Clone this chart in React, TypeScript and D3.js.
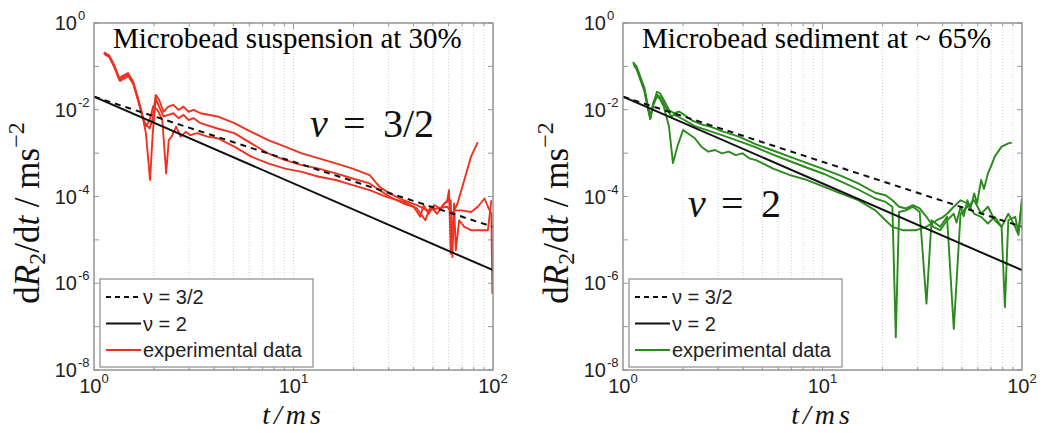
import * as d3 from "d3";

type Pt = [number, number];

// fitted power laws: value at t = 1 ms and t = 100 ms
const modelT = [1, 100];
const nu32Values = [0.02, 2e-5];
const nu2Values = [0.02, 2e-6];

const yTickExps = [0, -2, -4, -6, -8];
const xTickExps = [0, 1, 2];

// Microbead suspension at 30 % (three runs)
const suspensionA: Pt[] = [
  [1.12, 0.2], [1.19, 0.17], [1.26, 0.1], [1.34, 0.049], [1.4, 0.056], [1.48, 0.064], [1.57, 0.041],
  [1.66, 0.017], [1.73, 0.0083], [1.8, 0.0049], [1.9, 0.0037], [1.96, 0.0058], [2.04, 0.022], [2.12, 0.017],
  [2.23, 0.009], [2.36, 0.0118], [2.5, 0.013], [2.65, 0.0099], [2.81, 0.0118], [2.98, 0.009], [3.16, 0.0099],
  [3.42, 0.0083], [4.16, 0.007], [5.05, 0.0049], [6.14, 0.0031], [7.46, 0.002], [9.07, 0.00141], [11.0, 9.9e-4],
  [13.4, 7.6e-4], [16.3, 5.8e-4], [19.8, 4.4e-4], [24.1, 3.1e-4], [27.0, 1.67e-4], [30.4, 1.17e-4],
  [35.6, 8.2e-5], [41.6, 6.3e-5], [46.7, 4.8e-5], [52.5, 5.3e-5], [59.0, 5.8e-5], [62.6, 4.0e-5],
  [66.4, 6.9e-5], [71.8, 2.4e-4], [77.6, 8.3e-4], [83.9, 0.0018],
];
const suspensionB: Pt[] = [
  [1.12, 0.21], [1.19, 0.18], [1.26, 0.11], [1.34, 0.054], [1.4, 0.061], [1.48, 0.07], [1.57, 0.045],
  [1.66, 0.019], [1.73, 0.0092], [1.82, 0.0029], [1.91, 2.4e-4], [1.97, 0.0029], [2.04, 0.018], [2.12, 0.0118],
  [2.23, 0.007], [2.36, 0.0076], [2.5, 0.0083], [2.65, 0.0064], [2.81, 0.0076], [2.98, 0.0058], [3.16, 0.0064],
  [3.42, 0.0049], [4.16, 0.0037], [5.05, 0.0029], [6.14, 0.00168], [7.46, 9.9e-4], [9.07, 6.9e-4],
  [11.0, 5.3e-4], [13.4, 4.4e-4], [16.3, 3.4e-4], [19.8, 2.6e-4], [24.1, 2.0e-4], [27.0, 1.4e-4],
  [30.4, 9.8e-5], [35.6, 6.9e-5], [40.0, 5.8e-5], [43.2, 3.4e-5], [44.9, 6.3e-5], [47.6, 4.0e-5],
  [50.5, 6.3e-5], [54.6, 5.3e-5], [59.0, 8.2e-5], [60.2, 1.4e-4], [61.4, 4.8e-6], [63.8, 4.8e-5],
  [69.0, 4.8e-5], [77.6, 4.4e-5], [83.9, 5.8e-5], [90.7, 9.0e-5], [94.3, 5.8e-5], [98.1, 4.0e-5],
  [99.3, 5.7e-7],
];
const suspensionC: Pt[] = [
  [1.13, 0.19], [1.2, 0.16], [1.27, 0.092], [1.35, 0.046], [1.41, 0.052], [1.49, 0.059], [1.58, 0.038],
  [1.67, 0.016], [1.74, 0.0078], [1.82, 0.0041], [1.9, 0.0058], [1.98, 0.012], [2.08, 0.0099], [2.2, 0.0058],
  [2.3, 3.4e-4], [2.37, 0.002], [2.45, 0.0024], [2.58, 0.0041], [2.72, 0.0024], [2.88, 0.0031], [3.04, 0.0026],
  [3.29, 0.0029], [3.7, 0.0024], [4.16, 0.0022], [5.05, 0.00141], [6.14, 8.3e-4], [7.46, 5.8e-4],
  [9.07, 4.4e-4], [11.0, 3.7e-4], [13.4, 2.85e-4], [16.3, 2.4e-4], [19.8, 1.83e-4], [24.1, 1.4e-4],
  [29.2, 9.8e-5], [35.6, 7.5e-5], [41.6, 5.3e-5], [45.8, 2.84e-5], [48.6, 5.8e-5], [52.5, 4.0e-5],
  [56.8, 6.9e-5], [61.4, 8.2e-5], [62.6, 4.0e-6], [63.8, 6.9e-5], [65.1, 5.7e-6], [67.7, 2.84e-5],
  [71.8, 2.0e-5], [77.6, 1.67e-5], [87.2, 1.67e-5], [94.3, 1.67e-5], [98.1, 8.2e-5],
];

// Microbead sediment at ~65 % (three runs)
const sedimentA: Pt[] = [
  [1.13, 0.119], [1.17, 0.091], [1.22, 0.053], [1.28, 0.029], [1.33, 0.0118], [1.37, 0.0064], [1.42, 0.014],
  [1.48, 0.026], [1.53, 0.024], [1.6, 0.017], [1.7, 0.0099], [1.8, 0.0083], [1.91, 0.0091], [2.03, 0.0076],
  [2.2, 0.0058], [2.47, 0.0046], [2.78, 0.004], [3.13, 0.0032], [3.81, 0.0024], [4.64, 0.0016],
  [5.65, 0.00115], [6.88, 8.2e-4], [8.38, 5.9e-4], [10.2, 4.2e-4], [12.4, 3.0e-4], [15.1, 2.0e-4],
  [18.4, 1.22e-4], [20.7, 1.07e-4], [22.4, 8.2e-5], [24.2, 5.8e-5], [26.2, 5.3e-5], [28.4, 6.3e-5],
  [30.7, 5.3e-5], [33.2, 3.4e-5], [35.9, 2.0e-5], [38.9, 1.67e-5], [42.1, 2.84e-5], [45.5, 4.0e-5],
  [47.0, 2.5e-5], [49.2, 5.8e-5], [51.0, 3.5e-5], [53.3, 8.2e-5], [55.0, 5.0e-5], [57.6, 1.17e-4],
  [59.5, 7.0e-5], [62.4, 2.4e-4], [64.5, 1.5e-4], [67.5, 3.4e-4], [70.0, 5.0e-4], [73.0, 8.3e-4],
  [79.0, 0.00141], [85.4, 0.00168], [88.9, 0.00174],
];
const sedimentB: Pt[] = [
  [1.12, 0.125], [1.17, 0.1], [1.22, 0.058], [1.28, 0.032], [1.33, 0.013], [1.37, 0.007], [1.42, 0.015],
  [1.48, 0.022], [1.53, 0.02], [1.6, 0.014], [1.67, 0.0099], [1.75, 0.007], [1.8, 0.0076], [1.88, 0.007],
  [2.03, 0.0058], [2.29, 0.0042], [2.68, 0.0033], [3.13, 0.0026], [3.81, 0.0019], [4.64, 0.00135],
  [5.65, 9.2e-4], [6.88, 6.5e-4], [8.38, 4.6e-4], [10.2, 3.3e-4], [12.4, 2.2e-4], [15.1, 1.45e-4],
  [18.4, 9.0e-5], [20.7, 7.5e-5], [22.4, 5.8e-5], [23.3, 5.7e-8], [24.2, 4.4e-5], [26.2, 4.8e-5],
  [28.4, 5.8e-5], [30.7, 4.4e-5], [33.2, 3.4e-7], [35.2, 2.84e-5], [38.9, 2.0e-5], [42.1, 3.4e-5],
  [45.5, 8.9e-8], [49.2, 4.0e-5], [53.3, 5.8e-5], [57.6, 8.2e-5], [62.4, 4.0e-5], [67.5, 5.8e-5],
  [73.0, 2.84e-5], [79.0, 2.0e-5], [82.1, 2.8e-7], [85.4, 2.84e-5], [92.4, 3.4e-5], [96.0, 1.5e-5],
  [100, 9.0e-5],
];
const sedimentC: Pt[] = [
  [1.13, 0.11], [1.17, 0.085], [1.22, 0.05], [1.28, 0.027], [1.33, 0.011], [1.37, 0.006], [1.42, 0.013],
  [1.48, 0.02], [1.53, 0.018], [1.6, 0.012], [1.7, 0.0041], [1.78, 5.9e-4], [1.88, 0.0015], [2.0, 0.0034],
  [2.29, 0.0022], [2.47, 0.00141], [2.68, 0.00108], [2.89, 0.00118], [3.13, 9.9e-4], [3.39, 0.00108],
  [3.67, 9.0e-4], [3.97, 9.9e-4], [4.29, 7.6e-4], [4.64, 6.9e-4], [5.02, 5.8e-4], [5.65, 4.4e-4],
  [6.88, 3.1e-4], [8.38, 2.4e-4], [10.2, 1.67e-4], [12.4, 1.17e-4], [15.1, 8.2e-5], [18.4, 4.8e-5],
  [20.7, 2.84e-5], [22.4, 2.0e-5], [25.2, 1.67e-5], [29.5, 1.67e-5], [33.2, 2.0e-5], [37.4, 2.84e-5],
  [40.4, 3.4e-5], [42.1, 4.0e-5], [45.5, 5.8e-5], [49.2, 8.2e-5], [53.3, 6.9e-5], [57.6, 4.0e-5],
  [62.4, 3.4e-5], [67.5, 2.38e-5], [73.0, 3.4e-5], [79.0, 2.0e-5], [85.4, 4.0e-5], [92.4, 2.0e-5],
  [96.0, 1.3e-5], [100, 8.2e-5],
];

const SERIF = "'Liberation Serif', 'Times New Roman', serif";
const SANS = "'Liberation Sans', Arial, Helvetica, sans-serif";
const TOP = 23;
const BOTTOM = 370;
const PW = 399;

type PanelProps = {
  id: string;
  left: number;
  title: string;
  color: string;
  curves: Pt[][];
  nuText: string;
  nuDx: number;
  nuY: number;
};

function Panel({ id, left, title, color, curves, nuText, nuDx, nuY }: PanelProps) {
  const x = d3.scaleLog().domain([1, 100]).range([left, left + PW]);
  const y = d3.scaleLog().domain([1e-8, 1]).range([BOTTOM, TOP]);
  const line = d3
    .line<Pt>()
    .x((d) => x(d[0]))
    .y((d) => y(d[1]));
  const model = (vals: number[]) => line(modelT.map((t, i) => [t, vals[i]] as Pt)) as string;
  const gridT = x.ticks().filter((t) => t > 1 && t < 100);
  const decades = d3.range(-8, 1).map((e) => Math.pow(10, e));
  const nuX = left + nuDx;
  const lg = { x: left + 6, y: 279, w: 213, h: 88 };
  const legendRows = [
    { label: "ν = 3/2", stroke: "#111", dash: "5,4" },
    { label: "ν = 2", stroke: "#111", dash: undefined },
    { label: "experimental data", stroke: color, dash: undefined },
  ];

  return (
    <g>
      <defs>
        <clipPath id={`clip-${id}`}>
          <rect x={left} y={TOP} width={PW} height={BOTTOM - TOP} />
        </clipPath>
      </defs>
      <rect x={left} y={TOP} width={PW} height={BOTTOM - TOP} fill="#fff" />
      {gridT.map((t) => (
        <line key={t} x1={x(t)} x2={x(t)} y1={TOP} y2={BOTTOM} stroke="#cfcfcf" strokeWidth={1} strokeDasharray="1,2" />
      ))}
      {/* tick marks */}
      {gridT.concat([10]).map((t) => {
        const len = t === 10 ? 6 : 3;
        return (
          <g key={`t${t}`} stroke="#999" strokeWidth={1}>
            <line x1={x(t)} x2={x(t)} y1={BOTTOM} y2={BOTTOM - len} />
            <line x1={x(t)} x2={x(t)} y1={TOP} y2={TOP + len} />
          </g>
        );
      })}
      {decades.map((v) => (
        <g key={`d${v}`} stroke="#999" strokeWidth={1}>
          <line x1={left} x2={left + 5} y1={y(v)} y2={y(v)} />
          <line x1={left + PW} x2={left + PW - 5} y1={y(v)} y2={y(v)} />
        </g>
      ))}
      <g clipPath={`url(#clip-${id})`} fill="none">
        {curves.map((c, i) => (
          <path key={i} d={line(c) as string} stroke={color} strokeWidth={1.9} strokeLinejoin="round" />
        ))}
        <path d={model(nu2Values)} stroke="#111" strokeWidth={2} />
        <path d={model(nu32Values)} stroke="#111" strokeWidth={2} strokeDasharray="6,5" />
      </g>
      <rect x={left} y={TOP} width={PW} height={BOTTOM - TOP} fill="none" stroke="#8c8c8c" strokeWidth={1.4} />

      {/* axis tick labels */}
      {yTickExps.map((e) => (
        <g key={`yl${e}`} fontFamily={SANS} fill="#222">
          <text x={left - 17} y={y(Math.pow(10, e)) + 7} fontSize={20} textAnchor="end">
            10
          </text>
          <text x={left - 16} y={y(Math.pow(10, e)) - 3} fontSize={13}>
            {e === 0 ? "0" : `-${-e}`}
          </text>
        </g>
      ))}
      {xTickExps.map((e) => (
        <text key={`xl${e}`} x={x(Math.pow(10, e))} y={393} fontFamily={SANS} fontSize={20} fill="#222" textAnchor="middle">
          10
          <tspan fontSize={13} dy={-10}>
            {e}
          </tspan>
        </text>
      ))}

      {/* titles and annotation */}
      <text x={left + 19} y={48} fontFamily={SERIF} fontSize={29} fill="#000">
        {title}
      </text>
      <text y={nuY} fontFamily={SERIF} fontSize={40} fill="#111">
        <tspan x={nuX} fontStyle="italic">
          ν
        </tspan>
        <tspan x={nuX + 33}>=</tspan>
        <tspan x={nuX + 73}>{nuText}</tspan>
      </text>

      {/* axis labels */}
      <text
        transform={`translate(${left - 55},213) rotate(-90)`}
        textAnchor="middle"
        fontFamily={SERIF}
        fontSize={35}
        fill="#111"
      >
        d<tspan fontStyle="italic">R</tspan>
        <tspan fontSize={24} dy={6}>
          2
        </tspan>
        <tspan dy={-6}>/d</tspan>
        <tspan fontStyle="italic">t</tspan>
        <tspan> / ms</tspan>
        <tspan fontSize={24} dy={-15}>
          −2
        </tspan>
      </text>
      <text
        x={x(10)}
        y={424}
        textAnchor="middle"
        fontFamily={SERIF}
        fontStyle="italic"
        fontSize={28}
        letterSpacing={4}
        fill="#111"
      >
        t/ms
      </text>

      {/* legend */}
      <rect x={lg.x} y={lg.y} width={lg.w} height={lg.h} fill="#fff" stroke="#8c8c8c" strokeWidth={1.2} />
      {legendRows.map((r, i) => {
        const cy = lg.y + 18 + i * 26.5;
        return (
          <g key={r.label}>
            <line x1={lg.x + 6} x2={lg.x + 41} y1={cy} y2={cy} stroke={r.stroke} strokeWidth={2} strokeDasharray={r.dash} />
            <text x={lg.x + 43} y={cy + 7} fontFamily={SANS} fontSize={20} fill="#222">
              {r.label}
            </text>
          </g>
        );
      })}
    </g>
  );
}

export default function App() {
  return (
    <svg
      width={1052}
      height={433}
      viewBox="0 0 1052 433"
      style={{ position: "absolute", left: 0, top: 0, background: "#fff" }}
    >
      <Panel
        id="susp"
        left={94}
        title="Microbead suspension at 30%"
        color="#ee3222"
        curves={[suspensionA, suspensionB, suspensionC]}
        nuText="3/2"
        nuDx={216}
        nuY={137}
      />
      <Panel
        id="sed"
        left={623}
        title="Microbead sediment at ~ 65%"
        color="#2a8a1c"
        curves={[sedimentA, sedimentB, sedimentC]}
        nuText="2"
        nuDx={65}
        nuY={217}
      />
    </svg>
  );
}
